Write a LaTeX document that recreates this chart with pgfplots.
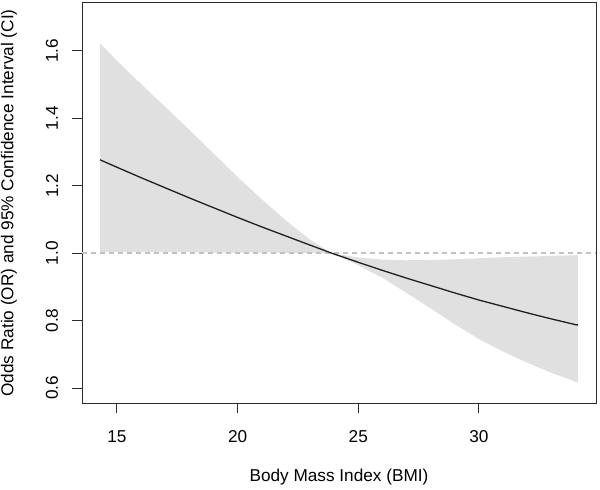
\documentclass[border=0pt]{standalone}
\usepackage{pgfplots}
\pgfplotsset{compat=1.18}
\usepackage{pgfplotstable}
\usepgfplotslibrary{fillbetween}
\usepackage{fontspec}
\setmainfont{Liberation Sans}

\definecolor{band}{HTML}{E0E0E0}
\definecolor{refline}{HTML}{C2C2C2}
\definecolor{frame}{HTML}{2B2B2B}

% BMI, odds ratio, lower and upper 95% CI
\pgfplotstableread{
x     est     lo     hi
14.3  1.277   1.004  1.623
15    1.255   1.004  1.571
16    1.224   1.003  1.502
17    1.194   1.003  1.434
18    1.164   1.003  1.366
19    1.135   1.002  1.296
20    1.106   1.002  1.226
21    1.078   1.002  1.160
22    1.051   1.001  1.097
23    1.024   1.001  1.040
23.9  1.000   1.000  1.000
24    0.9975  0.997  0.999
25    0.973   0.964  0.987
26    0.949   0.927  0.981
27    0.926   0.882  0.979
28    0.904   0.836  0.980
29    0.882   0.789  0.982
30    0.861   0.745  0.985
31    0.842   0.708  0.988
32    0.823   0.675  0.990
33    0.805   0.645  0.992
34    0.788   0.619  0.994
34.1  0.787   0.617  0.994
}\ortable

\begin{document}
\fontsize{17.2bp}{20bp}\selectfont
\begin{tikzpicture}
\begin{axis}[
  scale only axis,
  width=514bp, height=400bp,
  xmin=13.55, xmax=34.85,
  ymin=0.5555, ymax=1.7424,
  xtick={15,20,25,30},
  ytick={0.6,0.8,1.0,1.2,1.4,1.6},
  yticklabels={0.6,0.8,1.0,1.2,1.4,1.6},
  xtick pos=bottom, ytick pos=left,
  tick align=outside,
  major tick length=10bp,
  axis line style={frame, line width=1bp},
  every tick/.style={frame, line width=1bp},
  /pgf/number format/assume math mode=true,
  tick label style={font=\fontsize{17.2bp}{20bp}\selectfont},
  xticklabel style={anchor=center, yshift=-24bp},
  yticklabel style={xshift=-20bp, rotate=90, anchor=center},
  label style={font=\fontsize{17.2bp}{20bp}\selectfont},
  xlabel={Body Mass Index (BMI)},
  ylabel={Odds Ratio (OR) and 95\% Confidence Interval (CI)},
  every axis x label/.style={at={(rel axis cs:0.5,0)}, anchor=center, yshift=-73.7bp},
  every axis y label/.style={at={(rel axis cs:0,0.5)}, xshift=-73bp, rotate=90, anchor=center},
  clip=true,
]
\addplot[name path=hi, draw=none] table[x=x, y=hi] {\ortable};
\addplot[name path=lo, draw=none] table[x=x, y=lo] {\ortable};
\addplot[band, draw=none] fill between[of=hi and lo];
\addplot[refline, line width=1.4bp, dash pattern=on 5bp off 4bp] coordinates {(13.55,1) (34.85,1)};
\addplot[color=black!88, line width=1.3bp] table[x=x, y=est] {\ortable};
\end{axis}
\pgfresetboundingbox
\path[use as bounding box] (-82bp,-87bp) rectangle (518bp,403bp);
\end{tikzpicture}
\end{document}
